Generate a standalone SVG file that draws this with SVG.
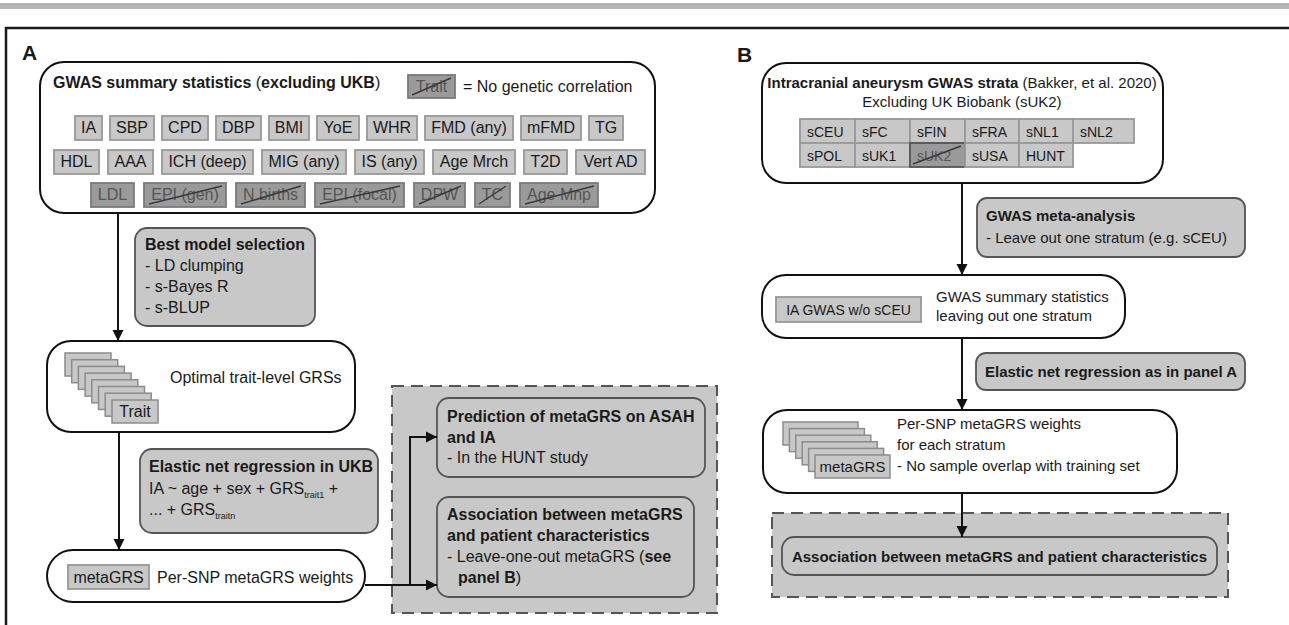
<svg xmlns="http://www.w3.org/2000/svg" width="1289" height="625" viewBox="0 0 1289 625">
<style>
text{font-family:"Liberation Sans",Arial,sans-serif;fill:#1a1a1a}
.a{font-size:16px}.b{font-size:15px}.c{font-size:14px}.bd{font-weight:bold}
.mid{text-anchor:middle}
.w{fill:#fff;stroke:#111;stroke-width:2}
.g{fill:#c8c8c8;stroke:#555;stroke-width:1.8}
.t{fill:#c8c8c8;stroke:#989898;stroke-width:1.8}
.x{fill:#9a9a9a;stroke:#7a7a7a;stroke-width:1.8}
.xt{fill:#555}
.s{stroke:#3a3a3a;stroke-width:1.5}
.dash{fill:#c8c8c8;stroke:#555;stroke-width:2;stroke-dasharray:12 7}
.conn{stroke:#111;stroke-width:2;fill:none}
.card{fill:#c8c8c8;stroke:#8c8c8c;stroke-width:1.5}
</style>
<defs>
<marker id="ah" markerUnits="userSpaceOnUse" markerWidth="12" markerHeight="12" refX="11" refY="6" orient="auto">
<path d="M0,0.5 L11,6 L0,11.5 z" fill="#111"/>
</marker>
</defs>
<rect width="1289" height="625" fill="#fff"/>
<g id="frame">
<rect x="0" y="3" width="1289" height="6" fill="#b5b5b5"/>
<path d="M5,28 H1289 M6,27 V625" stroke="#1a1a1a" stroke-width="2.5" fill="none"/>
</g>
<text x="22" y="60" font-size="21" class="bd">A</text>
<text x="737" y="62" font-size="21" class="bd">B</text>

<!-- Panel A -->
<g id="a-gwas">
<rect class="w" x="40" y="62" width="615" height="151" rx="24"/>
<text class="a" x="53" y="88"><tspan class="bd">GWAS summary statistics</tspan> (<tspan class="bd">excluding UKB</tspan>)</text>
<rect class="x" x="408" y="75" width="47" height="23"/>
<text class="a xt mid" x="431.5" y="92">Trait</text>
<line class="s" x1="412" y1="95" x2="451" y2="78"/>
<text class="a" x="463" y="92">= No genetic correlation</text>
<!-- row 1 -->
<rect class="t" x="75" y="116" width="27" height="24"/><text class="a mid" x="88.5" y="133">IA</text>
<rect class="t" x="110" y="116" width="44" height="24"/><text class="a mid" x="132" y="133">SBP</text>
<rect class="t" x="162" y="116" width="46" height="24"/><text class="a mid" x="185" y="133">CPD</text>
<rect class="t" x="216" y="116" width="45" height="24"/><text class="a mid" x="238.5" y="133">DBP</text>
<rect class="t" x="269" y="116" width="40" height="24"/><text class="a mid" x="289" y="133">BMI</text>
<rect class="t" x="317" y="116" width="42" height="24"/><text class="a mid" x="338" y="133">YoE</text>
<rect class="t" x="367" y="116" width="50" height="24"/><text class="a mid" x="392" y="133">WHR</text>
<rect class="t" x="425" y="116" width="88" height="24"/><text class="a mid" x="469" y="133">FMD (any)</text>
<rect class="t" x="521" y="116" width="60" height="24"/><text class="a mid" x="551" y="133">mFMD</text>
<rect class="t" x="589" y="116" width="34" height="24"/><text class="a mid" x="606" y="133">TG</text>
<!-- row 2 -->
<rect class="t" x="54" y="150" width="45" height="24"/><text class="a mid" x="76.5" y="167">HDL</text>
<rect class="t" x="108" y="150" width="45" height="24"/><text class="a mid" x="130.5" y="167">AAA</text>
<rect class="t" x="162" y="150" width="91" height="24"/><text class="a mid" x="207.5" y="167">ICH (deep)</text>
<rect class="t" x="262" y="150" width="84" height="24"/><text class="a mid" x="304" y="167">MIG (any)</text>
<rect class="t" x="355" y="150" width="69" height="24"/><text class="a mid" x="389.5" y="167">IS (any)</text>
<rect class="t" x="433" y="150" width="82" height="24"/><text class="a mid" x="474" y="167">Age Mrch</text>
<rect class="t" x="524" y="150" width="43" height="24"/><text class="a mid" x="545.5" y="167">T2D</text>
<rect class="t" x="576" y="150" width="69" height="24"/><text class="a mid" x="610.5" y="167">Vert AD</text>
<!-- row 3 -->
<rect class="x" x="91" y="183" width="43" height="24"/><text class="a xt mid" x="112.5" y="200">LDL</text>
<rect class="x" x="144" y="183" width="82" height="24"/><text class="a xt mid" x="185" y="200">EPI (gen)</text>
<line class="s" x1="149" y1="204" x2="222" y2="186"/>
<rect class="x" x="236" y="183" width="69" height="24"/><text class="a xt mid" x="270.5" y="200">N births</text>
<line class="s" x1="241" y1="204" x2="301" y2="186"/>
<rect class="x" x="315" y="183" width="89" height="24"/><text class="a xt mid" x="359.5" y="200">EPI (focal)</text>
<line class="s" x1="320" y1="204" x2="400" y2="186"/>
<rect class="x" x="414" y="183" width="51" height="24"/><text class="a xt mid" x="439.5" y="200">DPW</text>
<line class="s" x1="419" y1="204" x2="461" y2="186"/>
<rect class="x" x="475" y="183" width="35" height="24"/><text class="a xt mid" x="492.5" y="200">TC</text>
<line class="s" x1="479" y1="204" x2="506" y2="186"/>
<rect class="x" x="520" y="183" width="78" height="24"/><text class="a xt mid" x="559" y="200">Age Mnp</text>
<line class="s" x1="525" y1="204" x2="594" y2="186"/>
</g>

<g id="a-best">
<rect class="g" x="135" y="228" width="180" height="98" rx="12"/>
<text class="a" x="145" y="250"><tspan class="bd">Best model selection</tspan><tspan x="145" dy="21">- LD clumping</tspan><tspan x="145" dy="21">- s-Bayes R</tspan><tspan x="145" dy="21">- s-BLUP</tspan></text>
</g>

<g id="a-optimal">
<rect class="w" x="47" y="341" width="308" height="91" rx="24"/>
<rect class="card" x="65" y="353" width="46" height="23"/>
<rect class="card" x="71.7" y="359.7" width="46" height="23"/>
<rect class="card" x="78.4" y="366.4" width="46" height="23"/>
<rect class="card" x="85.1" y="373.1" width="46" height="23"/>
<rect class="card" x="91.8" y="379.8" width="46" height="23"/>
<rect class="card" x="98.5" y="386.5" width="46" height="23"/>
<rect class="card" x="105.2" y="393.2" width="46" height="23"/>
<rect class="card" x="112" y="400" width="46" height="23"/>
<text class="a mid" x="135" y="417">Trait</text>
<text class="a" x="170" y="383">Optimal trait-level GRSs</text>
</g>

<g id="a-elastic">
<rect class="g" x="140" y="449" width="238" height="84" rx="12"/>
<text class="a bd" x="149" y="472">Elastic net regression in UKB</text>
<text class="a" x="149" y="494">IA ~ age + sex + GRS<tspan font-size="9" dy="4">trait1</tspan><tspan dy="-4"> +</tspan></text>
<text class="a" x="149" y="515">... + GRS<tspan font-size="9" dy="4">traitn</tspan></text>
</g>

<g id="a-metagrs">
<rect class="w" x="47" y="550" width="318" height="52" rx="26"/>
<rect class="t" x="68" y="565" width="81" height="24"/>
<text class="a mid" x="108.5" y="583">metaGRS</text>
<text class="a" x="157" y="583">Per-SNP metaGRS weights</text>
</g>

<g id="a-downstream">
<rect class="dash" x="392" y="386" width="325" height="227"/>
</g>
<g id="a-prediction">
<rect class="g" x="437" y="398" width="268" height="79" rx="12"/>
<text class="a" x="447" y="422"><tspan class="bd">Prediction of metaGRS on ASAH</tspan><tspan class="bd" x="447" dy="21">and IA</tspan><tspan x="447" dy="20">- In the HUNT study</tspan></text>
</g>
<g id="a-association">
<rect class="g" x="437" y="497" width="257" height="100" rx="12"/>
<text class="a" x="447" y="520"><tspan class="bd">Association between metaGRS</tspan><tspan class="bd" x="447" dy="21">and patient characteristics</tspan><tspan x="447" dy="21">- Leave-one-out metaGRS (<tspan class="bd">see</tspan></tspan><tspan x="458" dy="21"><tspan class="bd">panel B</tspan>)</tspan></text>
</g>

<!-- Panel B -->
<g id="b-strata">
<rect class="w" x="762" y="63" width="401" height="120" rx="24"/>
<text class="b mid" x="962" y="88"><tspan class="bd">Intracranial aneurysm GWAS strata</tspan> (Bakker, et al. 2020)</text>
<text class="b mid" x="962" y="107">Excluding UK Biobank (sUK2)</text>
<rect class="t" x="800" y="119" width="55" height="24"/><text class="c" x="807" y="137">sCEU</text>
<rect class="t" x="855" y="119" width="55" height="24"/><text class="c" x="862" y="137">sFC</text>
<rect class="t" x="910" y="119" width="55" height="24"/><text class="c" x="917" y="137">sFIN</text>
<rect class="t" x="965" y="119" width="54" height="24"/><text class="c" x="972" y="137">sFRA</text>
<rect class="t" x="1019" y="119" width="54" height="24"/><text class="c" x="1026" y="137">sNL1</text>
<rect class="t" x="1073" y="119" width="61" height="24"/><text class="c" x="1080" y="137">sNL2</text>
<rect class="t" x="800" y="143" width="55" height="24"/><text class="c" x="807" y="161">sPOL</text>
<rect class="t" x="855" y="143" width="55" height="24"/><text class="c" x="862" y="161">sUK1</text>
<rect class="x" x="910" y="143" width="55" height="24" style="stroke:#555"/><text class="c xt" x="917" y="161">sUK2</text>
<line class="s" x1="913" y1="164" x2="961" y2="146"/>
<rect class="t" x="965" y="143" width="54" height="24"/><text class="c" x="972" y="161">sUSA</text>
<rect class="t" x="1019" y="143" width="54" height="24"/><text class="c" x="1026" y="161">HUNT</text>
</g>

<g id="b-meta">
<rect class="g" x="977" y="198" width="268" height="59" rx="10"/>
<text class="b" x="986" y="221"><tspan class="bd">GWAS meta-analysis</tspan><tspan x="986" dy="22">- Leave out one stratum (e.g. sCEU)</tspan></text>
</g>

<g id="b-ia">
<rect class="w" x="762" y="275" width="363" height="63" rx="24"/>
<rect class="t" x="776" y="297" width="145" height="25"/>
<text class="c mid" x="848.5" y="315">IA GWAS w/o sCEU</text>
<text class="b" x="936" y="302">GWAS summary statistics<tspan x="936" dy="19">leaving out one stratum</tspan></text>
</g>

<g id="b-elastic">
<rect class="g" x="976" y="353" width="269" height="37" rx="10"/>
<text class="b bd" x="985" y="377">Elastic net regression as in panel A</text>
</g>

<g id="b-persnp">
<rect class="w" x="763" y="410" width="414" height="83" rx="24"/>
<rect class="card" x="783" y="422" width="75" height="23"/>
<rect class="card" x="789.4" y="428.6" width="75" height="23"/>
<rect class="card" x="795.8" y="435.2" width="75" height="23"/>
<rect class="card" x="802.2" y="441.8" width="75" height="23"/>
<rect class="card" x="808.6" y="448.4" width="75" height="23"/>
<rect class="card" x="815" y="455" width="75" height="23"/>
<text class="b mid" x="852.5" y="472">metaGRS</text>
<text class="b" x="897" y="429">Per-SNP metaGRS weights<tspan x="897" dy="21">for each stratum</tspan><tspan x="897" dy="21">- No sample overlap with training set</tspan></text>
</g>

<g id="b-downstream">
<rect class="dash" x="772" y="513" width="456" height="84"/>
</g>
<g id="b-association">
<rect class="g" x="782" y="537" width="435" height="38" rx="12"/>
<text class="b bd mid" x="999.5" y="562">Association between metaGRS and patient characteristics</text>
</g>

<g id="connectors">
<line class="conn" x1="118" y1="213" x2="118" y2="341" marker-end="url(#ah)"/>
<line class="conn" x1="119" y1="432" x2="119" y2="550" marker-end="url(#ah)"/>
<path class="conn" d="M365,585 H437" marker-end="url(#ah)"/>
<path class="conn" d="M410,585 V437 H437" marker-end="url(#ah)"/>
<line class="conn" x1="962" y1="183" x2="962" y2="275" marker-end="url(#ah)"/>
<line class="conn" x1="962" y1="338" x2="962" y2="410" marker-end="url(#ah)"/>
<line class="conn" x1="962" y1="493" x2="962" y2="537" marker-end="url(#ah)"/>
</g>
</svg>
